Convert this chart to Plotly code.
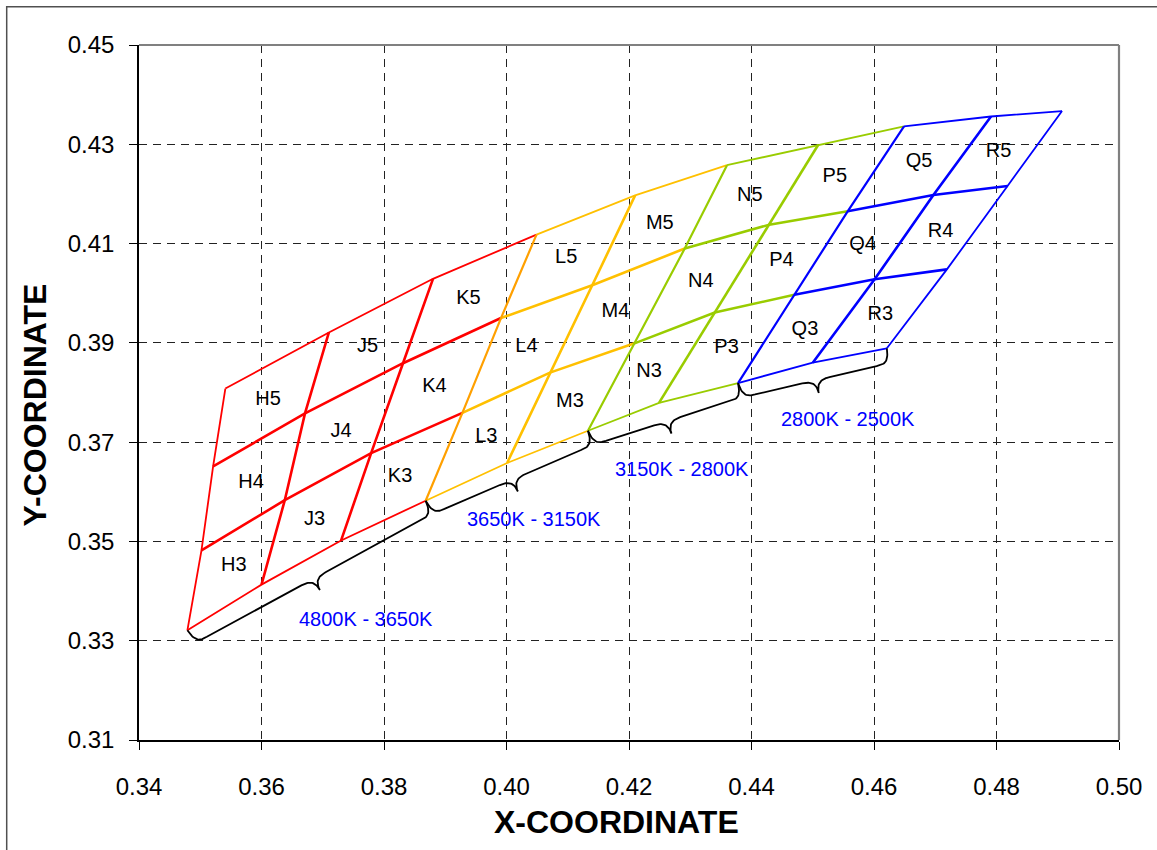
import plotly.graph_objects as go
import numpy as np

# ---------------- data ----------------
groups = ["4800K - 3650K", "3650K - 3150K", "3150K - 2800K", "2800K - 2500K"]
group_bins = [["H", "J", "K"], ["L", "M"], ["N", "P"], ["Q", "R"]]
bin_rows = ["3", "4", "5"]

# bin boundary vertices: 10 boundary lines (left edge of H ... right edge of R), 4 rows (bottom..top)
x_row0 = [0.3479, 0.3600, 0.3730, 0.3868, 0.4001, 0.4133, 0.4249, 0.4378, 0.4500, 0.4621]
y_row0 = [0.3321, 0.3413, 0.3502, 0.3582, 0.3658, 0.3723, 0.3779, 0.3819, 0.3860, 0.3889]
x_row1 = [0.3502, 0.3638, 0.3779, 0.3928, 0.4071, 0.4209, 0.4340, 0.4470, 0.4601, 0.4719]
y_row1 = [0.3482, 0.3583, 0.3678, 0.3759, 0.3840, 0.3899, 0.3961, 0.3997, 0.4028, 0.4048]
x_row2 = [0.3521, 0.3671, 0.3831, 0.3991, 0.4140, 0.4291, 0.4429, 0.4557, 0.4697, 0.4818]
y_row2 = [0.3651, 0.3758, 0.3859, 0.3950, 0.4016, 0.4090, 0.4138, 0.4165, 0.4198, 0.4216]
x_row3 = [0.3541, 0.3710, 0.3880, 0.4049, 0.4210, 0.4360, 0.4509, 0.4649, 0.4791, 0.4907]
y_row3 = [0.3808, 0.3921, 0.4029, 0.4118, 0.4197, 0.4258, 0.4299, 0.4336, 0.4356, 0.4367]

x_ticks = [0.34, 0.36, 0.38, 0.40, 0.42, 0.44, 0.46, 0.48, 0.50]
y_ticks = [0.31, 0.33, 0.35, 0.37, 0.39, 0.41, 0.43, 0.45]

# ---------------- style ----------------
group_colors = ["#FF0000", "#FFC000", "#99CC00", "#0000FF"]
shared_colors = {3: "#FFA000", 5: "#99CC00", 7: "#0000FF"}
label_shift = [(46, -29), (16, -28), (11, -35), (29, -26)]
FONT = "Liberation Sans, Arial, sans-serif"

W, H = 1157, 850
ML, MR, MT, MB = 139, 38, 45, 110
PW, PH = W - ML - MR, H - MT - MB
XR = [x_ticks[0], x_ticks[-1]]
YR = [y_ticks[0], y_ticks[-1]]
SX = PW / (XR[1] - XR[0])
SY = PH / (YR[1] - YR[0])

XS = [x_row0, x_row1, x_row2, x_row3]
YS = [y_row0, y_row1, y_row2, y_row3]

fig = go.Figure()

# column ranges of each group
col_start = 0
ranges = []
for bins in group_bins:
    ranges.append((col_start, col_start + len(bins)))
    col_start += len(bins)

thin, thick = 1.8, 2.6

for g, (c0, c1) in enumerate(ranges):
    col = group_colors[g]
    for r in range(4):
        fig.add_trace(go.Scatter(
            x=XS[r][c0:c1 + 1], y=YS[r][c0:c1 + 1], mode="lines",
            line=dict(color=col, width=thick if r in (1, 2) else thin),
            hoverinfo="skip", showlegend=False))
    for c in range(c0, c1 + 1):
        if c in shared_colors:
            continue
        lw = thin if c in (0, len(x_row0) - 1) else thick
        fig.add_trace(go.Scatter(
            x=[XS[r][c] for r in range(4)], y=[YS[r][c] for r in range(4)],
            mode="lines", line=dict(color=col, width=lw),
            hoverinfo="skip", showlegend=False))

# shared group boundaries
for c, lc in shared_colors.items():
    fig.add_trace(go.Scatter(
        x=[XS[r][c] for r in range(4)], y=[YS[r][c] for r in range(4)],
        mode="lines", line=dict(color=lc, width=2.2),
        hoverinfo="skip", showlegend=False))

# cell labels
lx, ly, lt = [], [], []
for g, (c0, c1) in enumerate(ranges):
    for i, letter in enumerate(group_bins[g]):
        c = c0 + i
        for j, rlab in enumerate(bin_rows):
            xs = [XS[j][c], XS[j][c + 1], XS[j + 1][c], XS[j + 1][c + 1]]
            ys = [YS[j][c], YS[j][c + 1], YS[j + 1][c], YS[j + 1][c + 1]]
            lx.append(float(np.mean(xs)))
            ly.append(float(np.mean(ys)))
            lt.append(letter + rlab)
fig.add_trace(go.Scatter(
    x=lx, y=ly, text=lt, mode="text",
    textfont=dict(family=FONT, size=20, color="black"),
    hoverinfo="skip", showlegend=False))


# braces
def bezier(p0, p1, p2, p3, n=20):
    t = np.linspace(0, 1, n)[:, None]
    p0, p1, p2, p3 = map(np.array, (p0, p1, p2, p3))
    return (1 - t) ** 3 * p0 + 3 * (1 - t) ** 2 * t * p1 + 3 * (1 - t) * t ** 2 * p2 + t ** 3 * p3


def brace(xa, ya, xb, yb, h=15.0, hh=28.0):
    dx, dy = (xb - xa) * SX, -(yb - ya) * SY
    L = float(np.hypot(dx, dy))
    d = np.array([dx, dy]) / L
    nrm = np.array([-d[1], d[0]])
    r = min(14.0, L * 0.1)
    m = L / 2
    pts = [
        bezier((0, 0), (0.1 * r, h), (0.5 * r, h), (r, h)),
        np.array([[r, h], [m - r, h]]),
        bezier((m - r, h), (m - 0.4 * r, h), (m, h + 0.2 * (hh - h)), (m, hh)),
        bezier((m, hh), (m, h + 0.2 * (hh - h)), (m + 0.4 * r, h), (m + r, h)),
        np.array([[m + r, h], [L - r, h]]),
        bezier((L - r, h), (L - 0.5 * r, h), (L - 0.1 * r, h), (L, 0)),
    ]
    P = np.vstack(pts)
    scr = P[:, 0:1] * d + P[:, 1:2] * nrm
    bx = xa + scr[:, 0] / SX
    by = ya - scr[:, 1] / SY
    ts = m * d + hh * nrm
    return bx, by, (xa + ts[0] / SX, ya - ts[1] / SY)


annotations = []
for g, (c0, c1) in enumerate(ranges):
    bx, by, tip = brace(x_row0[c0], y_row0[c0], x_row0[c1], y_row0[c1])
    fig.add_trace(go.Scatter(x=bx, y=by, mode="lines",
                             line=dict(color="black", width=1.8),
                             hoverinfo="skip", showlegend=False))
    annotations.append(dict(
        x=tip[0], y=tip[1], xref="x", yref="y", text=groups[g], showarrow=False,
        xshift=label_shift[g][0], yshift=label_shift[g][1],
        font=dict(family=FONT, size=20, color="#0000FF")))

# axis titles
annotations.append(dict(x=(616 - ML) / PW, y=(MT + PH - 821.7) / PH, xref="paper", yref="paper",
                        xanchor="center", yanchor="middle",
                        text="<b>X-COORDINATE</b>", showarrow=False,
                        font=dict(family=FONT, size=32, color="black")))
annotations.append(dict(x=(34.5 - ML) / PW, y=(MT + PH - 405) / PH, xref="paper", yref="paper",
                        xanchor="center", yanchor="middle",
                        text="<b>Y-COORDINATE</b>", showarrow=False, textangle=-90,
                        font=dict(family=FONT, size=32, color="black")))

axis_common = dict(
    showgrid=True, gridcolor="#222222", gridwidth=1, griddash="8px,6px",
    showline=True, linecolor="black", linewidth=1.5,
    ticks="outside", ticklen=8, tickcolor="black", tickwidth=1.2,
    zeroline=False, tickformat=".2f",
    tickfont=dict(family=FONT, size=24, color="black"),
)

fig.update_layout(
    width=W, height=H,
    margin=dict(l=ML, r=MR, t=MT, b=MB),
    paper_bgcolor="white", plot_bgcolor="white",
    xaxis=dict(range=XR, tickvals=x_ticks, ticklabelstandoff=16, **axis_common),
    yaxis=dict(range=YR, tickvals=y_ticks, ticklabelstandoff=10, **axis_common),
    annotations=annotations,
    shapes=[
        dict(type="line", xref="paper", yref="paper", x0=0, x1=1, y0=1, y1=1,
             line=dict(color="#808080", width=2.2), layer="above"),
        dict(type="line", xref="paper", yref="paper", x0=1, x1=1, y0=0, y1=1,
             line=dict(color="#808080", width=2.2), layer="above"),
        dict(type="rect", xref="paper", yref="paper",
             x0=(6.7 - ML) / PW, x1=(W + 5 - ML) / PW,
             y0=(MT + PH - (H + 5)) / PH, y1=(MT + PH - 6.7) / PH,
             line=dict(color="#505050", width=1.5), layer="above"),
    ],
)

fig.write_html("out.html", config={"displayModeBar": False},
               post_script="document.body.style.margin='0';document.body.style.overflow='hidden';")
